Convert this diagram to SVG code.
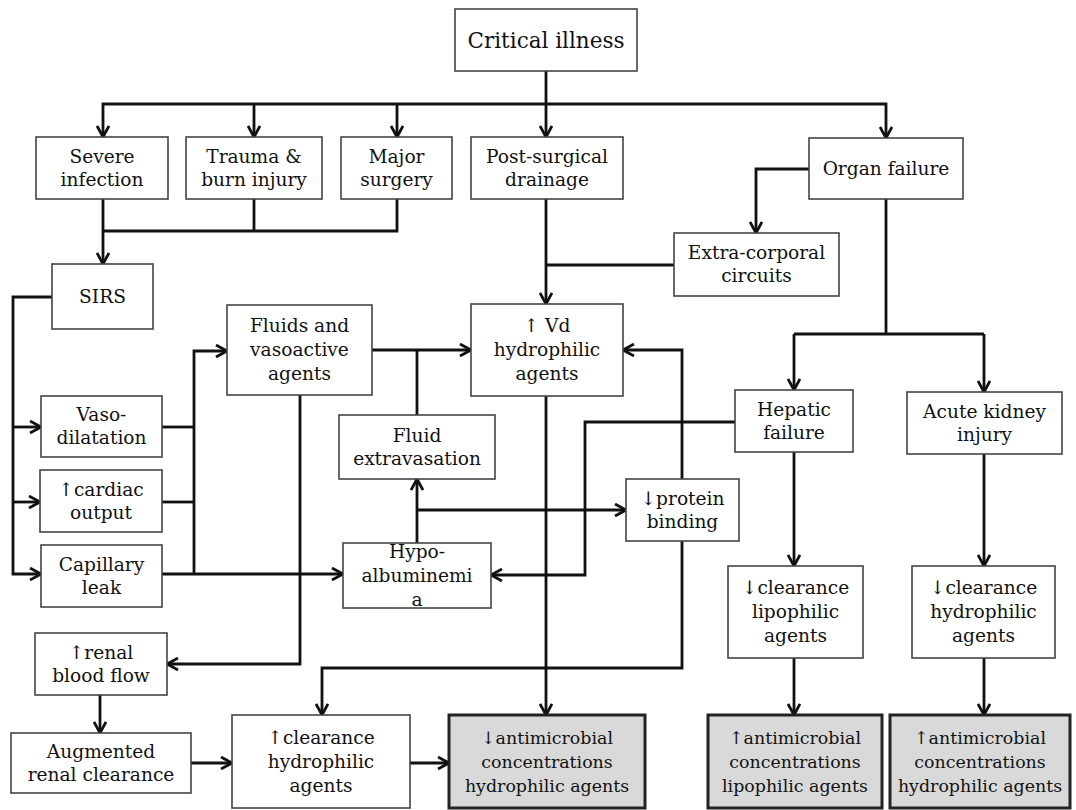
<svg xmlns="http://www.w3.org/2000/svg" width="1076" height="810" viewBox="0 0 1076 810">
<defs>
<marker id="ah" viewBox="0 0 14 14" refX="12.5" refY="7" markerWidth="14" markerHeight="14" markerUnits="userSpaceOnUse" orient="auto">
<path d="M1.5,1 L12.5,7 L1.5,13" fill="none" stroke="#111" stroke-width="2.8" stroke-linejoin="miter"/>
</marker>
<style>
.b{fill:#fff;stroke:#444;stroke-width:1.6}
.g{fill:#d9d9d9;stroke:#222;stroke-width:3}
text{font-family:"DejaVu Serif","Liberation Serif",serif;font-size:18.6px;fill:#111;text-anchor:middle}
.t{font-size:21.5px}
.s{font-size:17.4px}
.c path{fill:none;stroke:#111;stroke-width:2.8}
.a{marker-end:url(#ah)}
</style>
</defs>
<rect width="1076" height="810" fill="#fff"/>
<g class="c" id="connectors">
<path class="a" d="M546,71 V137"/>
<path class="a" d="M546,104 H103 V137"/>
<path class="a" d="M254,104 V137"/>
<path class="a" d="M397,104 V137"/>
<path class="a" d="M546,104 H886 V138"/>
<path d="M397,199 V231 H103"/>
<path d="M254,199 V231"/>
<path class="a" d="M103,199 V264"/>
<path class="a" d="M52,297 H13 V574 H41"/>
<path class="a" d="M13,427 H41"/>
<path class="a" d="M13,502 H40"/>
<path d="M162,427 H194"/>
<path d="M162,502 H194"/>
<path class="a" d="M162,574 H343"/>
<path class="a" d="M194,574 V351 H227"/>
<path class="a" d="M372,350 H471"/>
<path d="M417,350 V415"/>
<path class="a" d="M417,543 V479"/>
<path class="a" d="M417,510 H626"/>
<path class="a" d="M300,395 V664 H167"/>
<path class="a" d="M100,695 V733"/>
<path class="a" d="M191,763 H232"/>
<path class="a" d="M410,763 H449"/>
<path class="a" d="M546,199 V304"/>
<path d="M674,265 H546"/>
<path class="a" d="M546,396 V715"/>
<path class="a" d="M809,169 H756 V233"/>
<path d="M886,199 V334"/>
<path d="M794,334 H984"/>
<path class="a" d="M794,334 V390"/>
<path class="a" d="M984,334 V392"/>
<path class="a" d="M735,422 H585 V575 H491"/>
<path class="a" d="M682,479 V350 H623"/>
<path class="a" d="M682,541 V668 H322 V715"/>
<path class="a" d="M794,452 V566"/>
<path class="a" d="M984,454 V566"/>
<path class="a" d="M794,658 V715"/>
<path class="a" d="M984,658 V715"/>
</g>
<g id="critical"><rect class="b" x="455" y="9" width="182" height="62"/><text class="t" x="546" y="48">Critical illness</text></g>
<g id="severe"><rect class="b" x="36" y="137" width="132" height="62"/><text x="102" y="162.5">Severe</text><text x="102" y="185.5">infection</text></g>
<g id="trauma"><rect class="b" x="186" y="137" width="136" height="62"/><text x="254" y="162.5">Trauma &amp;</text><text x="254" y="185.5">burn injury</text></g>
<g id="major"><rect class="b" x="341" y="137" width="111" height="62"/><text x="396.5" y="162.5">Major</text><text x="396.5" y="185.5">surgery</text></g>
<g id="postsurg"><rect class="b" x="471" y="137" width="152" height="62"/><text x="547" y="162.5">Post-surgical</text><text x="547" y="185.5">drainage</text></g>
<g id="organ"><rect class="b" x="809" y="138" width="154" height="61"/><text x="886" y="175">Organ failure</text></g>
<g id="extracorp"><rect class="b" x="674" y="233" width="165" height="63"/><text x="756.5" y="259">Extra-corporal</text><text x="756.5" y="282">circuits</text></g>
<g id="sirs"><rect class="b" x="52" y="264" width="101" height="65"/><text x="102.5" y="303">SIRS</text></g>
<g id="fluids"><rect class="b" x="227" y="305" width="145" height="90"/><text x="299.5" y="332">Fluids and</text><text x="299.5" y="356">vasoactive</text><text x="299.5" y="380">agents</text></g>
<g id="vd"><rect class="b" x="471" y="304" width="152" height="92"/><text x="547" y="332">↑ Vd</text><text x="547" y="356">hydrophilic</text><text x="547" y="380">agents</text></g>
<g id="fluidext"><rect class="b" x="339" y="415" width="156" height="64"/><text x="417" y="441.5">Fluid</text><text x="417" y="464.5">extravasation</text></g>
<g id="vaso"><rect class="b" x="41" y="396" width="121" height="61"/><text x="101.5" y="421">Vaso-</text><text x="101.5" y="444">dilatation</text></g>
<g id="cardiac"><rect class="b" x="40" y="470" width="122" height="62"/><text x="101" y="495.5">↑cardiac</text><text x="101" y="518.5">output</text></g>
<g id="capillary"><rect class="b" x="41" y="545" width="121" height="62"/><text x="101.5" y="570.5">Capillary</text><text x="101.5" y="593.5">leak</text></g>
<g id="hepatic"><rect class="b" x="735" y="390" width="118" height="62"/><text x="794" y="415.5">Hepatic</text><text x="794" y="438.5">failure</text></g>
<g id="aki"><rect class="b" x="907" y="392" width="155" height="62"/><text x="984.5" y="417.5">Acute kidney</text><text x="984.5" y="440.5">injury</text></g>
<g id="protein"><rect class="b" x="626" y="479" width="113" height="62"/><text x="682.5" y="504.5">↓protein</text><text x="682.5" y="527.5">binding</text></g>
<g id="hypo"><rect class="b" x="343" y="543" width="148" height="65"/><text x="417" y="557.5">Hypo-</text><text x="417" y="581.5">albuminemi</text><text x="417" y="605.5">a</text></g>
<g id="clearlipo"><rect class="b" x="728" y="566" width="135" height="92"/><text x="795.5" y="594">↓clearance</text><text x="795.5" y="618">lipophilic</text><text x="795.5" y="642">agents</text></g>
<g id="clearhydro"><rect class="b" x="912" y="566" width="143" height="92"/><text x="983.5" y="594">↓clearance</text><text x="983.5" y="618">hydrophilic</text><text x="983.5" y="642">agents</text></g>
<g id="renal"><rect class="b" x="35" y="633" width="132" height="62"/><text x="101" y="658.5">↑renal</text><text x="101" y="681.5">blood flow</text></g>
<g id="augmented"><rect class="b" x="11" y="733" width="180" height="60"/><text x="101" y="757.5">Augmented</text><text x="101" y="780.5">renal clearance</text></g>
<g id="upclear"><rect class="b" x="232" y="715" width="178" height="93"/><text x="321" y="743.5">↑clearance</text><text x="321" y="767.5">hydrophilic</text><text x="321" y="791.5">agents</text></g>
<g id="downanti"><rect class="g" x="449" y="715" width="196" height="93"/><text class="s" x="547" y="743.5">↓antimicrobial</text><text class="s" x="547" y="767.5">concentrations</text><text class="s" x="547" y="791.5">hydrophilic agents</text></g>
<g id="upantilipo"><rect class="g" x="708" y="715" width="174" height="93"/><text class="s" x="795" y="743.5">↑antimicrobial</text><text class="s" x="795" y="767.5">concentrations</text><text class="s" x="795" y="791.5">lipophilic agents</text></g>
<g id="upantihydro"><rect class="g" x="890" y="715" width="180" height="93"/><text class="s" x="980" y="743.5">↑antimicrobial</text><text class="s" x="980" y="767.5">concentrations</text><text class="s" x="980" y="791.5">hydrophilic agents</text></g>
</svg>
